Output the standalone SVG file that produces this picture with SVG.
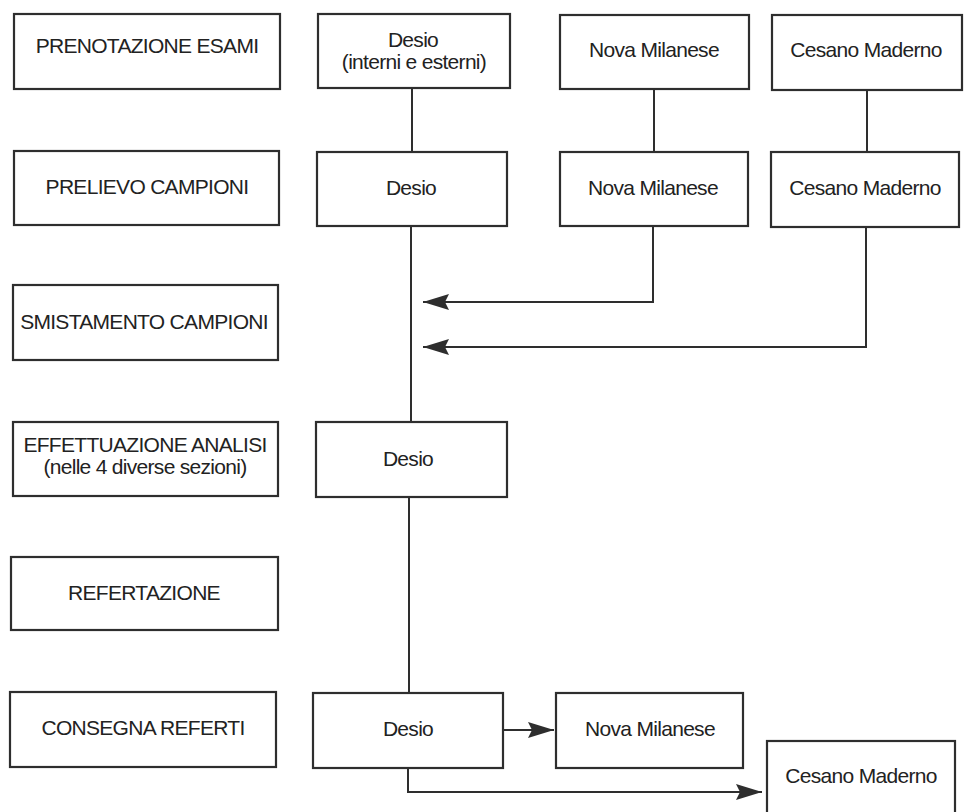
<svg xmlns="http://www.w3.org/2000/svg" width="964" height="812" viewBox="0 0 964 812">
<defs>
<style>
.box{fill:#fff;stroke:#2e2e2e;stroke-width:2.2}
.t{font-family:"Liberation Sans",Arial,sans-serif;font-size:21px;letter-spacing:-0.7px;fill:#222;text-anchor:middle}
.c{fill:none;stroke:#2e2e2e;stroke-width:2}
</style>
<marker id="ah" markerUnits="userSpaceOnUse" markerWidth="26" markerHeight="16" refX="26" refY="8" orient="auto">
<path d="M0,0 L26,8 L0,16 L4,8 z" fill="#2e2e2e"/>
</marker>
</defs>
<rect width="964" height="812" fill="#fff"/>
<g id="connectors">
<line class="c" x1="412" y1="88" x2="412" y2="152"/>
<line class="c" x1="411" y1="226" x2="411" y2="422"/>
<line class="c" x1="409" y1="497" x2="409" y2="693"/>
<line class="c" x1="654" y1="89" x2="654" y2="152"/>
<line class="c" x1="867" y1="90" x2="867" y2="152"/>
<path class="c" d="M653 226 V302 H423" marker-end="url(#ah)"/>
<path class="c" d="M866 227 V347 H423" marker-end="url(#ah)"/>
<path class="c" d="M503 730 H554" marker-end="url(#ah)"/>
<path class="c" d="M408 768 V792 H762" marker-end="url(#ah)"/>
</g>
<g id="n-prenotazione"><rect class="box" x="14" y="14" width="266" height="75"/><text class="t" x="147" y="53">PRENOTAZIONE ESAMI</text></g>
<g id="n-prelievo"><rect class="box" x="14" y="151" width="265" height="74"/><text class="t" x="147" y="194">PRELIEVO CAMPIONI</text></g>
<g id="n-smistamento"><rect class="box" x="13" y="285" width="265" height="75"/><text class="t" x="144" y="329">SMISTAMENTO CAMPIONI</text></g>
<g id="n-effettuazione"><rect class="box" x="13" y="422" width="265" height="74"/><text class="t" x="145" y="452">EFFETTUAZIONE ANALISI</text><text class="t" x="145" y="474">(nelle 4 diverse sezioni)</text></g>
<g id="n-refertazione"><rect class="box" x="11" y="557" width="267" height="73"/><text class="t" x="144" y="600">REFERTAZIONE</text></g>
<g id="n-consegna"><rect class="box" x="10" y="692" width="266" height="75"/><text class="t" x="143" y="735">CONSEGNA REFERTI</text></g>
<g id="n-desio1"><rect class="box" x="318" y="14" width="192" height="74"/><text class="t" x="413" y="47">Desio</text><text class="t" x="414" y="69">(interni e esterni)</text></g>
<g id="n-nova1"><rect class="box" x="560" y="15" width="189" height="74"/><text class="t" x="654" y="57">Nova Milanese</text></g>
<g id="n-cesano1"><rect class="box" x="772" y="15" width="190" height="75"/><text class="t" x="866" y="57">Cesano Maderno</text></g>
<g id="n-desio2"><rect class="box" x="317" y="152" width="190" height="74"/><text class="t" x="411" y="195">Desio</text></g>
<g id="n-nova2"><rect class="box" x="560" y="152" width="188" height="74"/><text class="t" x="653" y="195">Nova Milanese</text></g>
<g id="n-cesano2"><rect class="box" x="771" y="152" width="188" height="75"/><text class="t" x="865" y="195">Cesano Maderno</text></g>
<g id="n-desio4"><rect class="box" x="316" y="422" width="191" height="75"/><text class="t" x="408" y="466">Desio</text></g>
<g id="n-desio6"><rect class="box" x="313" y="693" width="190" height="75"/><text class="t" x="408" y="736">Desio</text></g>
<g id="n-nova6"><rect class="box" x="556" y="693" width="187" height="75"/><text class="t" x="650" y="736">Nova Milanese</text></g>
<g id="n-cesano6"><rect class="box" x="767" y="741" width="188" height="80"/><text class="t" x="861" y="783">Cesano Maderno</text></g>
</svg>
